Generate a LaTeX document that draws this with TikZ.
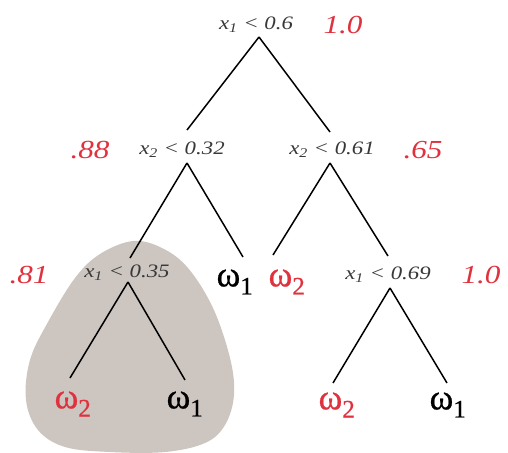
\documentclass[tikz,border=0pt]{standalone}
\usepackage{fontspec}
\setmainfont{Liberation Serif}
\newfontfamily\testfont[FakeStretch=1.2]{Liberation Serif}
\newfontfamily\scorefont[FakeStretch=1.2]{Liberation Serif}
\newfontfamily\leaffont[FakeBold=0.6]{Liberation Serif}
\usetikzlibrary{calc}
\begin{document}
\begin{tikzpicture}[x=1pt,y=-1pt,
  test/.style={font=\testfont\fontsize{19}{21}\selectfont\itshape, inner sep=0pt, text=black!78},
  score/.style={font=\scorefont\fontsize{26}{28}\selectfont\itshape, text=redc, inner sep=0pt},
  leaf/.style={font=\leaffont\fontsize{36}{38}\selectfont, inner sep=0pt},
  edge/.style={line width=1.5pt, black}]
\definecolor{redc}{RGB}{224,50,62}
\definecolor{blob}{RGB}{205,197,191}
\useasboundingbox (0,0) rectangle (508,452);
\fill[blob] plot[smooth cycle, tension=0.6] coordinates {(133,241) (162,248) (188,268) (213,308) (230,358) (234,395) (225,425) (205,443) (165,452) (110,452) (65,447) (38,430) (26,400) (30,360) (48,322) (75,278) (100,254)};
% tests
\node[test] (n0) at (256,25) {x\textsubscript{1} < 0.6};
\node[test] (n1) at (182,150) {x\textsubscript{2} < 0.32};
\node[test] (n2) at (332,150) {x\textsubscript{2} < 0.61};
\node[test] (n3) at (127,273) {x\textsubscript{1} < 0.35};
\node[test] (n4) at (388,275) {x\textsubscript{1} < 0.69};
% scores
\node[score] (r0) at (343,25) {1.0};
\node[score] (r1) at (90,150) {.88};
\node[score] (r2) at (423,150) {.65};
\node[score] (r3) at (29,275) {.81};
\node[score] (r4) at (481,275) {1.0};
% leaves
\node[leaf] (l1) at (235,282) {ω\textsubscript{1}};
\node[leaf,text=redc] (l2) at (287,282) {ω\textsubscript{2}};
\node[leaf,text=redc] (l3) at (73,404) {ω\textsubscript{2}};
\node[leaf] (l4) at (185,404) {ω\textsubscript{1}};
\node[leaf,text=redc] (l5) at (337,405) {ω\textsubscript{2}};
\node[leaf] (l6) at (448,405) {ω\textsubscript{1}};
% edges
\draw[edge] ($(n0)+(3,12)$) -- ($(n1)+(5,-20)$);
\draw[edge] ($(n0)+(3,12)$) -- ($(n2)+(-2,-18)$);
\draw[edge] ($(n1)+(5,13)$) -- ($(n3)+(3,-15)$);
\draw[edge] ($(n1)+(5,13)$) -- ($(l1)+(8,-25)$);
\draw[edge] ($(n2)+(-2,13)$) -- ($(l2)+(-14,-27)$);
\draw[edge] ($(n2)+(-2,13)$) -- ($(n4)+(0,-19)$);
\draw[edge] ($(n3)+(1,9)$) -- ($(l3)+(-3,-26)$);
\draw[edge] ($(n3)+(1,9)$) -- ($(l4)+(0,-24)$);
\draw[edge] ($(n4)+(2,13)$) -- ($(l5)+(-4,-22)$);
\draw[edge] ($(n4)+(2,13)$) -- ($(l6)+(-1,-22)$);
\end{tikzpicture}
\end{document}
